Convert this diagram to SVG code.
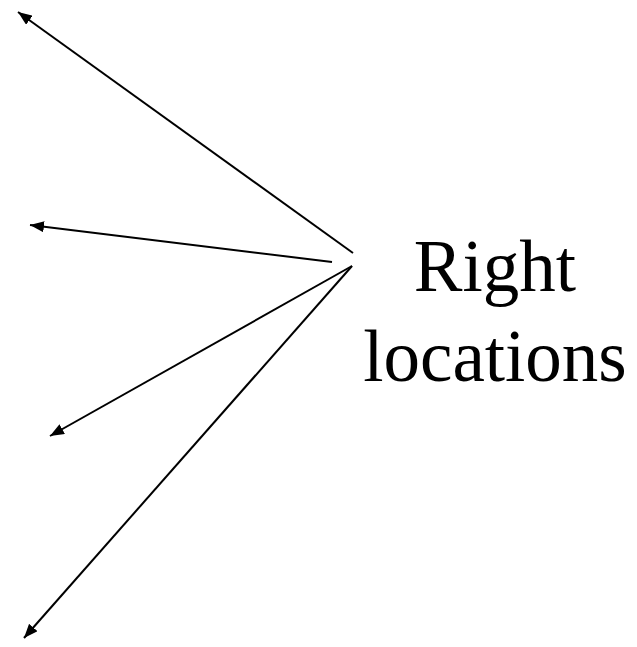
<svg xmlns="http://www.w3.org/2000/svg" width="637" height="647" viewBox="0 0 637 647">
<defs>
<marker id="ah" viewBox="0 0 10 8" refX="10" refY="4" markerWidth="7" markerHeight="5.6" orient="auto" markerUnits="strokeWidth">
<path d="M0,0 L10,4 L0,8 Z" fill="#000"/>
</marker>
<style>
.c{stroke:#000;stroke-width:2;fill:none;marker-end:url(#ah)}
.t{font-family:"Liberation Serif",serif;font-size:73px;fill:#000;text-anchor:middle}
</style>
</defs>
<rect width="637" height="647" fill="#fff"/>
<g id="connectors">
<line class="c" x1="353" y1="253" x2="18" y2="12"/>
<line class="c" x1="332" y1="262" x2="30" y2="225"/>
<line class="c" x1="352" y1="266" x2="50" y2="436"/>
<line class="c" x1="352" y1="266" x2="24" y2="638"/>
</g>
<g id="label">
<text class="t" x="495" y="291">Right</text>
<text class="t" x="495" y="381">locations</text>
</g>
</svg>
